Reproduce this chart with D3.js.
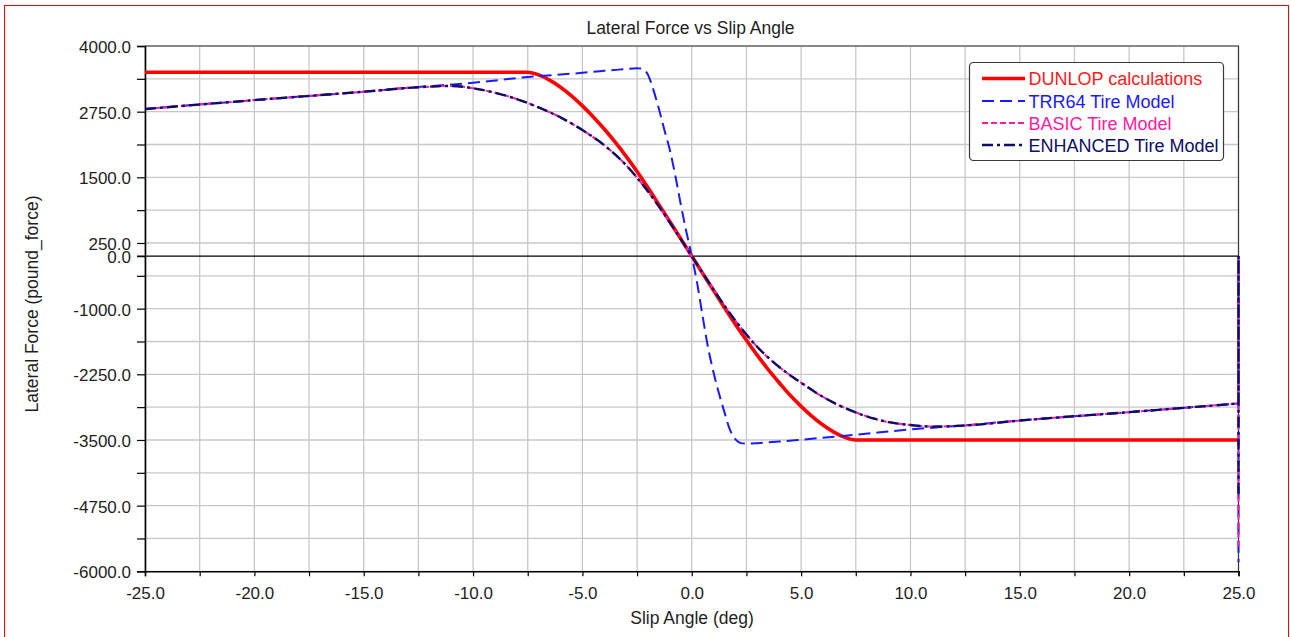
<!DOCTYPE html>
<html>
<head>
<meta charset="utf-8">
<script src="https://cdn.jsdelivr.net/npm/d3@7"></script>
<style>
  html, body { margin: 0; padding: 0; background: #ffffff; }
  svg { display: block; font-family: "Liberation Sans", Arial, sans-serif; }
</style>
</head>
<body>
<svg id="chart" width="1290" height="637"></svg>
<script>
// Lateral force (lbf) against slip angle (deg) for four tire models.

const dunlopAngle = [-25, -7.5, -7, -6.5, -6, -5.5, -5, -4.5, -4, -3.5, -3, -2.5, -2, -1.5, -1, -0.5, 0,
                     0.5, 1, 1.5, 2, 2.5, 3, 3.5, 4, 4.5, 5, 5.5, 6, 6.5, 7, 7.5, 25];
const dunlopForce = [3500, 3500, 3450, 3350, 3215, 3050, 2860, 2650, 2420, 2170, 1900, 1610, 1300, 980, 655, 328, 0,
                     -328, -655, -985, -1300, -1600, -1890, -2160, -2410, -2650, -2860, -3050, -3215, -3350, -3450, -3500, -3500];

const trrAngle = [-25, -20, -15, -12.5, -10, -7.5, -5, -4, -3, -2.5, -2.25, -2, -1.75, -1.5, -1.25, -1, -0.75, -0.5, -0.25, 0,
                  0.25, 0.5, 0.75, 1, 1.25, 1.5, 1.75, 2, 2.25, 2.5, 3, 4, 5, 7.5, 10, 12.5, 15, 20, 25];
const trrForce = [2800, 2970, 3130, 3220, 3300, 3410, 3490, 3530, 3560, 3575, 3565, 3450, 3160, 2800, 2400, 2020, 1530, 980, 470, 0,
                  -520, -1150, -1750, -2220, -2620, -2980, -3310, -3490, -3560, -3570, -3560, -3530, -3495, -3400, -3300, -3220, -3130, -2970, -2805];
const trrTail = [0, -5830];

const modelAngle = [-25, -20, -15, -12.5, -11, -10, -9, -8, -7, -6, -5, -4, -3, -2, -1, 0,
                    1, 2, 3, 4, 5, 6, 7, 8, 9, 10, 11, 12.5, 15, 20, 25];
const basicForce = [2800, 2970, 3130, 3215, 3240, 3195, 3110, 2990, 2830, 2640, 2400, 2110, 1730, 1230, 640, 0,
                    -640, -1230, -1730, -2110, -2410, -2680, -2890, -3050, -3160, -3215, -3245, -3225, -3130, -2970, -2805];
const basicTail = [0, -5530];
const enhancedForce = [2800, 2970, 3130, 3215, 3240, 3195, 3110, 2990, 2830, 2640, 2400, 2110, 1730, 1230, 640, 0,
                       -640, -1230, -1730, -2110, -2410, -2680, -2890, -3050, -3160, -3215, -3245, -3225, -3130, -2970, -2805];
const enhancedTail = [0, -4570];

const yLabelTicks = [-6000, -4750, -3500, -2250, -1000, 0, 250, 1500, 2750, 4000];
const xLabelTicks = [-25, -20, -15, -10, -5, 0, 5, 10, 15, 20, 25];

const seriesNames = ["DUNLOP calculations", "TRR64 Tire Model", "BASIC Tire Model", "ENHANCED Tire Model"];

// ---- layout
const svg = d3.select("#chart");
const L = 145, R = 1238.5, T = 46, B = 571.3;
const x = d3.scaleLinear().domain([-25, 25]).range([L, R]);
const y = d3.scaleLinear().domain([-6000, 4000]).range([B, T]);

// outer frame
svg.append("rect").attr("x", 4.5).attr("y", 5.5).attr("width", 1284).attr("height", 640)
  .attr("fill", "none").attr("stroke", "#ff0000").attr("stroke-width", 1);

// grid
const gridY = d3.range(-6000, 4001, 625);
const gridX = d3.range(-25, 25.01, 2.5);
const grid = svg.append("g");
grid.selectAll(".gy").data(gridY).join("line")
  .attr("x1", L).attr("x2", R).attr("y1", d => y(d)).attr("y2", d => y(d))
  .attr("stroke", "#c8c8c8").attr("stroke-width", 1.3);
grid.selectAll(".gx").data(gridX).join("line")
  .attr("y1", T).attr("y2", B).attr("x1", d => x(d)).attr("x2", d => x(d))
  .attr("stroke", "#c8c8c8").attr("stroke-width", 1.3);

// plot border (top/right)
svg.append("path").attr("d", `M${L},${T}H${R}V${B}`)
  .attr("fill", "none").attr("stroke", "#3a3a3a").attr("stroke-width", 1.2);

// zero line
svg.append("line").attr("x1", L - 8).attr("x2", R).attr("y1", y(0)).attr("y2", y(0))
  .attr("stroke", "#000").attr("stroke-width", 1.2);

// axes (plain hyphen for negative numbers)
const locale = d3.formatLocale({ decimal: ".", thousands: "", grouping: [3], currency: ["", ""], minus: "-" });
const fmt = locale.format(".1f");
const yAxis = d3.axisLeft(y).tickValues(gridY.concat([0])).tickSize(8).tickPadding(6)
  .tickFormat(v => yLabelTicks.includes(v) ? fmt(v) : "");
const gy = svg.append("g").attr("transform", `translate(${L},0)`).call(yAxis);
gy.select(".domain").attr("stroke", "#000").attr("stroke-width", 1.6);
gy.selectAll(".tick line").attr("stroke", "#000").attr("stroke-width", 1.2);
gy.selectAll(".tick text").attr("font-size", 17).attr("fill", "#1e1e1e")
  .attr("font-family", "Liberation Sans, Arial, sans-serif").attr("dy", "0.38em");

const xAxis = d3.axisBottom(x).tickValues(gridX).tickSize(5).tickPadding(11)
  .tickFormat(v => xLabelTicks.includes(v) ? fmt(v) : "");
const gx = svg.append("g").attr("transform", `translate(0,${B})`).call(xAxis);
gx.select(".domain").attr("stroke", "#000").attr("stroke-width", 1.6);
gx.selectAll(".tick line").attr("stroke", "#000").attr("stroke-width", 1.2);
gx.selectAll(".tick text").attr("font-size", 17).attr("fill", "#1e1e1e")
  .attr("font-family", "Liberation Sans, Arial, sans-serif");

// titles
svg.append("text").attr("x", 690.5).attr("y", 34).attr("text-anchor", "middle")
  .attr("font-size", 17.5).attr("fill", "#1e1e1e").text("Lateral Force vs Slip Angle");
svg.append("text").attr("x", 692).attr("y", 624).attr("text-anchor", "middle")
  .attr("font-size", 17.5).attr("fill", "#1e1e1e").text("Slip Angle (deg)");
svg.append("text").attr("transform", "translate(38,304) rotate(-90)").attr("text-anchor", "middle")
  .attr("font-size", 17.5).attr("fill", "#1e1e1e").text("Lateral Force (pound_force)");

// series
const styles = [
  { color: "#ff0000", width: 3.6, dash: null },
  { color: "#1a1aff", width: 2, dash: "12,6" },
  { color: "#ff1aa3", width: 2, dash: "6,3" },
  { color: "#0d0d66", width: 2.4, dash: "11,4,3,4" }
];
const series = [
  { angle: dunlopAngle, force: dunlopForce, tail: [] },
  { angle: trrAngle, force: trrForce, tail: trrTail },
  { angle: modelAngle, force: basicForce, tail: basicTail },
  { angle: modelAngle, force: enhancedForce, tail: enhancedTail }
];

const smooth = d3.line().x(d => x(d[0])).y(d => y(d[1])).curve(d3.curveMonotoneX);
const straight = d3.line().x(d => x(d[0])).y(d => y(d[1]));
const lines = svg.append("g").attr("fill", "none");

series.forEach((s, i) => {
  const pts = s.angle.map((a, k) => [a, s.force[k]]);
  const st = styles[i];
  const p = lines.append("path").attr("d", smooth(pts))
    .attr("stroke", st.color).attr("stroke-width", st.width);
  if (st.dash) p.attr("stroke-dasharray", st.dash);
  if (s.tail.length) {
    const last = pts[pts.length - 1];
    const tailPts = [last].concat(s.tail.map(v => [last[0], v]));
    const t = lines.append("path").attr("d", straight(tailPts))
      .attr("stroke", st.color).attr("stroke-width", st.width);
    if (st.dash) t.attr("stroke-dasharray", st.dash);
  }
});

// legend
const lg = svg.append("g");
lg.append("rect").attr("x", 969.5).attr("y", 62.5).attr("width", 254).attr("height", 98).attr("rx", 4)
  .attr("fill", "#ffffff").attr("stroke", "#3a3a3a").attr("stroke-width", 1.2);
const rowY = [78.5, 101, 123, 145];
seriesNames.forEach((name, i) => {
  const st = styles[i];
  const ln = lg.append("line").attr("x1", 982).attr("x2", 1025).attr("y1", rowY[i]).attr("y2", rowY[i])
    .attr("stroke", st.color).attr("stroke-width", st.width);
  if (st.dash) ln.attr("stroke-dasharray", st.dash);
  lg.append("text").attr("x", 1028.5).attr("y", rowY[i] + 6.8)
    .attr("font-size", 18).attr("fill", st.color === "#ff0000" ? "#ff1a1a" : st.color).text(name);
});
</script>
</body>
</html>
